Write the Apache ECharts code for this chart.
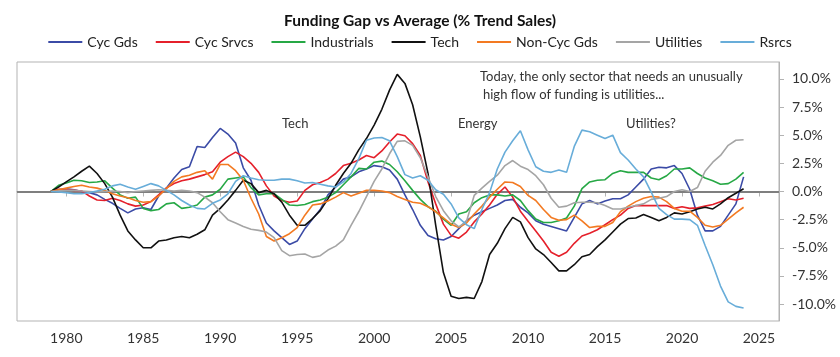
<!DOCTYPE html>
<html>
<head>
<meta charset="utf-8">
<script src="https://cdn.jsdelivr.net/npm/echarts@6/dist/echarts.min.js"></script>
<style>
html,body{margin:0;padding:0;background:#fff;}
#chart{width:840px;height:357px;}
</style>
</head>
<body>
<div id="chart"></div>
<script>
// Half-yearly observations from 1979.0 to 2024.0
const startYear = 1979;
const stepYears = 0.5;

const seriesNames = ['Cyc Gds', 'Cyc Srvcs', 'Industrials', 'Tech', 'Non-Cyc Gds', 'Utilities', 'Rsrcs'];

const cycGds = [
  0, 0.15, 0.25, 0.15, 0.0, -0.1, -0.3, -0.7, -1.05, -1.5,
  -1.9, -1.55, -1.45, -1.6, -0.4, 0.3, 1.2, 1.95, 2.2, 4.0,
  3.9, 4.8, 5.6, 5.1, 4.3, 2.1, 1.0, -1.2, -2.8, -3.5,
  -4.1, -4.7, -4.4, -3.3, -2.45, -1.6, -0.3, 0.4, 1.1, 1.3,
  1.75, 2.0, 2.3, 2.2, 1.9, 1.1, -0.3, -1.6, -3.0, -3.9,
  -4.2, -4.3, -4.0, -3.3, -2.6, -2.1, -1.8, -1.5, -1.2, -0.8,
  -0.7, -1.4, -1.9, -2.6, -2.9, -3.1, -3.3, -3.5, -2.3, -1.1,
  -0.8, -1.1, -0.85, -0.65, -0.65, -0.3, 0.4, 1.1, 2.0, 2.15,
  2.1, 2.3, 1.6, 0.2, -2.1, -3.5, -3.5, -3.1, -2.1, -1.1,
  1.3
];

const cycSrvcs = [
  0, 0.2, 0.15, 0.1, 0.05, -0.4, -0.75, -0.8, -0.6, -0.8,
  -1.1, -1.3, -1.2, -0.9, -0.3, 0.3, 0.7, 0.95, 1.1, 1.3,
  1.5, 1.75, 2.6, 3.1, 3.5, 3.1, 2.5, 1.7, 0.5, -0.4,
  -0.8, -0.95, -0.85, 0.1, 0.6, 0.8, 1.1, 1.6, 2.3, 2.5,
  2.8, 3.2, 3.0, 3.6, 4.4, 5.1, 4.95, 4.25, 3.2, 0.85,
  -1.1, -2.9, -3.9, -4.15, -3.6, -2.7, -2.0, -1.2, -0.25, 0.4,
  -0.5, -1.75, -2.65, -3.5, -4.4, -5.4, -5.75, -5.4, -4.6, -3.95,
  -3.7, -3.4, -2.95, -2.5, -2.1, -1.5, -1.25, -1.25, -1.25, -1.25,
  -1.25, -1.5, -1.35, -1.5, -1.45, -1.3, -1.15, -0.9, -0.65, -0.75,
  -0.6
];

const industrials = [
  0, 0.55, 0.75, 1.0, 0.95, 0.8, 0.85, 0.95, 0.3, -0.3,
  -0.6, -0.5, -1.5, -1.7, -1.6, -1.1, -1.0, -1.5, -1.4, -1.2,
  -0.5, -0.3, 0.2, 1.1, 1.2, 1.3, 0.35, -0.3, -0.2, -0.2,
  -0.7, -1.2, -1.25, -1.15, -0.9, -0.75, -0.5, -0.1, 0.6, 1.3,
  2.05, 2.0, 2.6, 2.7, 2.4, 1.75, 0.95, 0.1, -0.7, -1.35,
  -1.75, -2.45, -3.0, -2.0, -1.8, -1.0, -0.55, -0.3, -0.3, -0.4,
  -0.3, -0.8, -1.7, -2.45, -2.75, -2.75, -2.6, -2.35, -1.3, 0.25,
  0.85, 1.0, 1.05, 1.6, 1.85, 1.7, 1.7, 1.7, 1.2, 1.05,
  1.4, 2.0, 2.0, 2.1, 1.6, 1.2, 0.95, 0.65, 0.7, 1.1,
  1.7
];

const tech = [
  0, 0.4, 0.85, 1.3, 1.8, 2.25, 1.6, 0.7, -0.5, -2.1,
  -3.5, -4.3, -5.0, -5.0, -4.4, -4.3, -4.1, -4.0, -4.1, -3.8,
  -3.4, -2.1, -1.5, -0.75, 0.1, 1.0, 0.7, -0.1, 0.1, -0.2,
  -0.95, -2.1, -3.0, -3.0, -2.4, -1.7, -0.65, 0.55, 1.6, 2.5,
  3.7, 4.7, 5.9, 7.3, 9.0, 10.4, 9.6, 7.7, 4.85, 1.6,
  -3.0, -7.2, -9.3, -9.5, -9.4, -9.5, -8.0, -5.6, -4.6, -3.3,
  -2.3, -2.7, -4.1, -5.1, -5.6, -6.3, -7.05, -7.05, -6.5, -5.8,
  -5.6, -4.9, -4.3, -3.6, -2.9, -2.4, -2.35, -2.05, -2.3, -2.6,
  -2.3, -1.9, -2.0, -1.8, -1.55, -1.4, -1.55, -1.1, -0.55, -0.15,
  0.25
];

const nonCycGds = [
  0, 0.15, 0.3, 0.45, 0.55, 0.4, 0.3, 0.1, -0.2, -0.4,
  -0.55, -0.8, -0.95, -0.9, -0.4, 0.25, 0.9, 1.3, 1.45, 1.7,
  1.85, 1.1, 2.4, 2.4, 1.85, 1.0, -0.6, -2.0, -4.0, -4.4,
  -4.1, -3.75, -3.2, -2.1, -1.2, -1.1, -0.85, -0.5, -0.1, -0.4,
  -0.15, 0.1, 0.1, 0.05, -0.1, -0.45, -0.7, -0.95, -1.05, -1.35,
  -1.8, -2.35, -2.9, -3.2, -2.8, -2.0, -1.3, -0.5, 0.2, 0.85,
  0.8, 0.45, -0.35, -0.8, -1.6, -2.3, -2.55, -2.5, -2.1, -2.6,
  -3.2, -3.1, -3.1, -2.75, -1.8, -1.3, -0.9, -0.6, -0.45, -0.5,
  -0.9, -1.5, -1.75, -1.75, -2.3, -3.0, -3.15, -3.0, -2.45, -1.9,
  -1.4
];

const utilities = [
  0, 0.05, 0.1, 0.1, 0.05, 0.0, -0.05, 0.0, 0.05, 0.0,
  -0.1, 0.0, 0.05, 0.1, 0.15, 0.1, 0.05, 0.1, 0.05, -0.1,
  -0.5, -1.0, -1.8, -2.5, -2.8, -3.1, -3.35, -3.45, -3.6, -4.1,
  -5.25, -5.7, -5.6, -5.55, -5.85, -5.7, -5.2, -4.85, -4.3, -3.0,
  -1.8, -0.45, 0.9, 2.0, 3.35, 4.45, 4.5, 4.1, 3.0, 1.3,
  -0.45, -1.7, -2.6, -3.15, -2.65, -0.35, 0.3, 0.9, 1.45, 2.3,
  2.75, 2.25, 1.95, 1.4, 0.6, -0.6, -1.4, -1.3, -1.0, -0.95,
  -0.95, -1.0, -1.25, -1.55, -1.55, -1.4, -1.25, -1.1, -0.7, -0.6,
  -0.45, 0.0, 0.15, 0.0, 0.35, 1.8, 2.6, 3.2, 4.1, 4.55,
  4.6
];

const rsrcs = [
  0, -0.05, -0.1, -0.2, -0.2, -0.1, 0.05, 0.2, 0.5, 0.65,
  0.4, 0.2, 0.45, 0.7, 0.5, 0.1, -0.3, -0.8, -1.2, -1.5,
  -1.55, -1.05, -0.75, -0.2, 0.9, 1.4, 1.2, 1.05, 1.0, 1.0,
  1.1, 1.1, 0.95, 0.75, 0.8, 0.65, 0.5, 0.4, 0.85, 1.6,
  2.9, 4.55, 4.75, 4.8, 4.5, 3.1, 1.5, 1.2, 1.4, 1.0,
  0.15, -0.25, -1.1, -2.35, -2.95, -3.3, -1.6, -0.1, 2.0, 3.5,
  4.5, 5.4, 3.7, 2.2, 1.8, 1.7, 1.9, 1.7, 4.0, 5.45,
  5.3, 5.0, 4.7, 5.0, 3.45, 2.8, 2.0, 1.3, -0.05, -1.5,
  -2.05, -2.45, -2.45, -2.5, -3.0, -4.8, -6.5, -8.4, -9.8, -10.2,
  -10.35
];

const yTickValues = [-10, -7.5, -5, -2.5, 0, 2.5, 5, 7.5, 10];
const xTickValues = [1980, 1985, 1990, 1995, 2000, 2005, 2010, 2015, 2020, 2025];

const colors = ['#3B4BA6', '#E5202B', '#26A845', '#111111', '#F37A22', '#A5A5A5', '#68ADD9'];
const allValues = [cycGds, cycSrvcs, industrials, tech, nonCycGds, utilities, rsrcs];

const FONT = 'Lato, "Open Sans", sans-serif';

function toPairs(vals) {
  return vals.map((v, i) => [startYear + i * stepYears, v]);
}

const series = allValues.map((vals, k) => ({
  name: seriesNames[k],
  type: 'line',
  data: toPairs(vals),
  showSymbol: false,
  symbol: 'none',
  lineStyle: { width: 1.6, color: colors[k] },
  itemStyle: { color: colors[k] },
  z: 3,
  animation: false
}));

series[0].markLine = {
  silent: true,
  symbol: 'none',
  label: { show: false },
  lineStyle: { color: '#7f7f7f', width: 2, type: 'solid' },
  data: [{ yAxis: 0 }],
  z: 2,
  animation: false
};

const chart = echarts.init(document.getElementById('chart'), null, { renderer: 'canvas' });
chart.setOption({
  animation: false,
  backgroundColor: '#ffffff',
  title: {
    text: 'Funding Gap vs Average (% Trend Sales)',
    left: 'center',
    top: 8,
    textStyle: { fontFamily: FONT, fontSize: 15.5, fontWeight: 'bold', color: '#111' }
  },
  legend: {
    data: seriesNames,
    top: 30,
    left: 'center',
    icon: 'rect',
    itemWidth: 34,
    itemHeight: 2,
    itemGap: 18,
    textStyle: { fontFamily: FONT, fontSize: 14, color: '#222' }
  },
  grid: {
    left: 17, right: 61, top: 62, bottom: 36,
    show: true, borderColor: '#b3b3b3', borderWidth: 1, backgroundColor: 'transparent'
  },
  xAxis: {
    type: 'value',
    min: 1976.8,
    max: 2026.3,
    splitLine: { show: false },
    axisLine: { show: true, lineStyle: { color: '#b3b3b3' } },
    axisTick: { show: true, customValues: xTickValues, length: 5, lineStyle: { color: '#b3b3b3' } },
    axisLabel: {
      customValues: xTickValues,
      margin: 10,
      fontFamily: FONT, fontSize: 14, color: '#333',
      formatter: v => String(v)
    }
  },
  yAxis: {
    type: 'value',
    position: 'right',
    min: -11.5,
    max: 11.5,
    splitLine: { show: false },
    axisLine: { show: true, lineStyle: { color: '#b3b3b3' } },
    axisTick: { show: true, customValues: yTickValues, length: 5, lineStyle: { color: '#b3b3b3' } },
    axisLabel: {
      customValues: yTickValues,
      margin: 13,
      fontFamily: FONT, fontSize: 14, color: '#333',
      formatter: v => v.toFixed(1) + '%'
    }
  },
  graphic: [
    { type: 'text', left: 480, top: 70, style: { text: 'Today, the only sector that needs an unusually', font: '13px ' + FONT, fill: '#333' } },
    { type: 'text', left: 483, top: 88, style: { text: 'high flow of funding is utilities...', font: '13px ' + FONT, fill: '#333' } },
    { type: 'text', left: 282, top: 117, style: { text: 'Tech', font: '13px ' + FONT, fill: '#333' } },
    { type: 'text', left: 458, top: 117, style: { text: 'Energy', font: '13px ' + FONT, fill: '#333' } },
    { type: 'text', left: 626, top: 117, style: { text: 'Utilities?', font: '13px ' + FONT, fill: '#333' } }
  ],
  series: series
});
</script>
</body>
</html>
